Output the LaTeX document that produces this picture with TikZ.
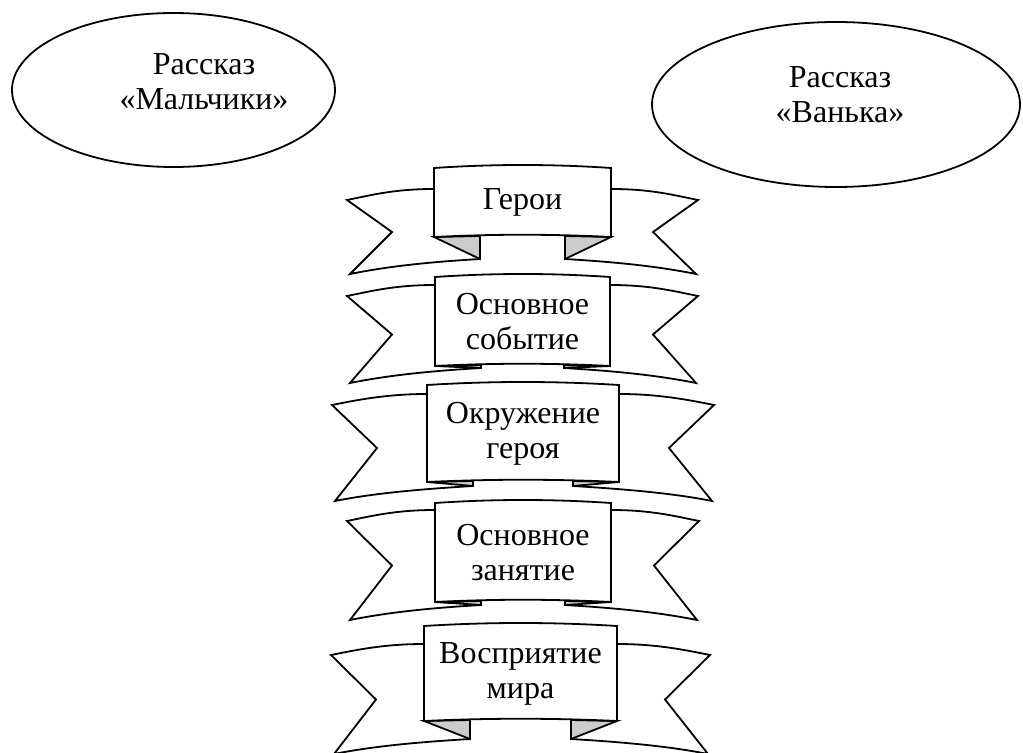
\documentclass[tikz,border=0pt]{standalone}
\usepackage{fontspec}
\setmainfont{Liberation Serif}
\usepackage{tikz}
\usetikzlibrary{shapes,positioning,calc}
\tikzstyle{oval} = [ellipse, draw=black, line width=0.9pt, inner sep=0pt]
\tikzstyle{lbl} = [align=center, font=\fontsize{16}{17.5}\selectfont, inner sep=0pt]
\tikzstyle{wing} = [draw=black, fill=white, line width=0.9pt, line join=miter]
\tikzstyle{fold} = [draw=black, fill=black!20, line width=0.9pt]
\tikzstyle{panel} = [draw=black, fill=white, line width=0.9pt]
% #1 name, #2 left, #3 right, #4 top, #5 bottom, #6 fold depth, #7 wing top at panel, #8 wing length, #9 text
\newcommand{\lenta}[9]{%
	\pgfmathsetmacro{\rbFb}{#5+#6}
	\pgfmathsetmacro{\rbWt}{#7+11}
	\pgfmathsetmacro{\rbWb}{\rbFb+15}
	\pgfmathsetmacro{\rbNy}{(\rbWt+\rbWb)/2-5}
	\pgfmathsetmacro{\rbLt}{#2-#8}
	\pgfmathsetmacro{\rbRt}{#3+#8}
	\pgfmathsetmacro{\rbLf}{#2+46}
	\pgfmathsetmacro{\rbRf}{#3-46}
	% wings
	\draw[wing] (#2,#7) .. controls +(-40,0) and +(25,-5) .. (\rbLt,\rbWt) -- (\rbLt+45,\rbNy) -- (\rbLt+3,\rbWb)
		.. controls +(40,-8) and +(-50,3) .. (\rbLf,\rbFb) -- (\rbLf,#5) -- (#2,#5) -- cycle;
	\draw[wing] (#3,#7) .. controls +(40,0) and +(-25,-5) .. (\rbRt,\rbWt) -- (\rbRt-45,\rbNy) -- (\rbRt-2,\rbWb)
		.. controls +(-40,-8) and +(50,3) .. (\rbRf,\rbFb) -- (\rbRf,#5) -- (#3,#5) -- cycle;
	% folds
	\draw[fold] (#2,#5) -- (\rbLf,\rbFb) -- (\rbLf,#5-1) -- cycle;
	\draw[fold] (#3,#5) -- (\rbRf,\rbFb) -- (\rbRf,#5-1) -- cycle;
	% panel
	\draw[panel] (#2,#4) .. controls ({#2+(#3-#2)/3},{#4-4}) and ({#2+2*(#3-#2)/3},{#4-4}) .. (#3,#4) -- (#3,#5)
		.. controls ({#2+2*(#3-#2)/3},{#5-3}) and ({#2+(#3-#2)/3},{#5-3}) .. (#2,#5) -- cycle;
	\node[lbl] (#1) at ({(#2+#3)/2},{(#4+#5)/2}) {#9};
}

\begin{document}
\begin{tikzpicture}[x=0.5pt,y=-0.5pt]
	\useasboundingbox (0,0) rectangle (1023,753);
	% stories
	\node[oval, minimum width=161.5pt, minimum height=77pt] (boys) at (173.5,90) {};
	\node[lbl] (boys-t) at (204,82) {Рассказ\\«Мальчики»};
	\node[oval, minimum width=184pt, minimum height=82.5pt] (vanka) at (836,104.5) {};
	\node[lbl] (vanka-t) at (840,95) {Рассказ\\«Ванька»};
	% ribbons
	\lenta{heroes}{434}{611}{168}{237}{22}{189}{87}{Герои}
	\lenta{event}{435}{610}{277}{366}{2}{285}{88}{Основное\\событие}
	\lenta{surround}{427}{619}{385}{482}{4}{394}{95}{Окружение\\героя}
	\lenta{work}{435}{611}{503}{602}{3}{510}{88}{Основное\\занятие}
	\lenta{world}{424}{617}{626}{721}{18}{644}{93}{Восприятие\\мира}
\end{tikzpicture}
\end{document}
